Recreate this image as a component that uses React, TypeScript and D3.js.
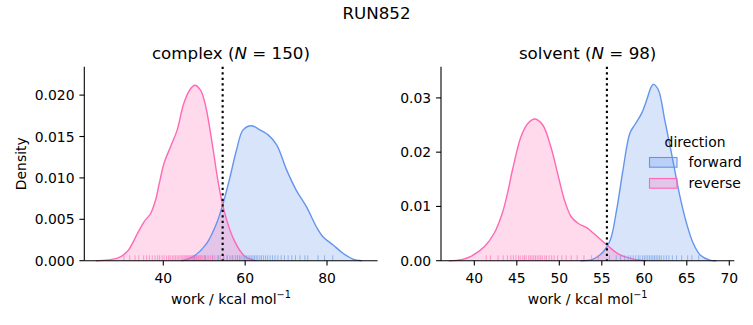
import React from 'react';
import * as d3 from 'd3';

// ---- Data ----
const directions = ['forward', 'reverse'];
const dirColors = ['#6495ED', '#FF69B4'];

// complex panel KDE curves
const complexForwardX = [44.5, 47.3, 50.6, 53.0, 54.6, 56.3, 57.9, 59.5, 61.6, 63.6, 65.6, 67.7, 70.1, 72.5, 75.0, 77.4, 79.0, 81.5, 83.9, 86.3, 88.5];
const complexForwardY = [0, 0.0005, 0.0021, 0.0045, 0.0069, 0.0101, 0.0134, 0.0158, 0.0163, 0.0158, 0.0152, 0.0140, 0.0110, 0.0085, 0.0065, 0.0041, 0.0029, 0.0019, 0.0009, 0.0002, 0];
const complexReverseX = [23.5, 26.5, 28.8, 31.2, 33.7, 35.3, 36.9, 38.1, 39.0, 40.2, 41.8, 43.4, 45.0, 46.7, 47.7, 49.1, 50.3, 52.0, 53.3, 54.3, 55.5, 57.1, 59.2, 60.3, 62.5];
const complexReverseY = [0, 0.0001, 0.0003, 0.0011, 0.0033, 0.0047, 0.0057, 0.0073, 0.0093, 0.0118, 0.0138, 0.0158, 0.0190, 0.0208, 0.0212, 0.0206, 0.0188, 0.0140, 0.0098, 0.0072, 0.0049, 0.0027, 0.0009, 0.0004, 0];

// solvent panel KDE curves
const solventForwardX = [52.5, 54.0, 55.2, 56.0, 56.75, 57.5, 58.3, 58.9, 59.7, 60.3, 60.75, 61.06, 61.65, 62.4, 63.2, 64.2, 64.97, 65.76, 66.55, 67.7, 68.5];
const solventForwardY = [0, 0.0003, 0.0017, 0.0038, 0.0094, 0.0168, 0.0235, 0.0251, 0.0272, 0.0297, 0.0318, 0.0325, 0.0315, 0.0260, 0.0198, 0.0118, 0.0069, 0.0032, 0.0011, 0.0001, 0];
const solventReverseX = [37.0, 38.5, 39.6, 41.2, 42.35, 43.3, 43.9, 44.5, 45.5, 46.3, 47.14, 48.05, 49.0, 49.8, 50.6, 51.4, 52.2, 53.3, 54.0, 55.6, 57.1, 58.7, 60.2];
const solventReverseY = [0, 0.0002, 0.0008, 0.0026, 0.0051, 0.0088, 0.0124, 0.0168, 0.0229, 0.0253, 0.0261, 0.0250, 0.0210, 0.0161, 0.0112, 0.0081, 0.0069, 0.0060, 0.0051, 0.0029, 0.0011, 0.0003, 0];

// rug samples
const complexForwardRug = [47.6, 50.2, 52.1, 53.5, 54.8, 55.6, 56.3, 57.0, 57.6, 58.1, 58.6, 59.0, 59.5, 59.9, 60.3, 60.7, 61.1, 61.5, 61.9, 62.3, 62.7, 63.1, 63.6, 64.0, 64.5, 65.0, 65.5, 66.1, 66.7, 67.3, 68.0, 68.8, 69.6, 70.5, 71.4, 72.3, 73.4, 74.6, 75.3, 77.8, 79.4, 81.4];
const complexReverseRug = [30.4, 31.8, 33.1, 34.0, 35.2, 35.9, 36.6, 37.3, 38.0, 38.6, 39.1, 39.7, 40.2, 40.8, 41.3, 41.7, 42.2, 42.6, 43.0, 43.4, 43.8, 44.1, 44.5, 44.8, 45.1, 45.4, 45.7, 46.0, 46.2, 46.5, 46.7, 47.0, 47.2, 47.4, 47.6, 47.9, 48.1, 48.3, 48.6, 48.8, 49.1, 49.4, 49.7, 50.0, 50.3, 50.7, 51.1, 51.5, 52.0, 52.6, 53.2, 53.9, 54.7, 55.6, 56.8, 58.1];
const solventForwardRug = [55.9, 56.7, 57.2, 57.7, 58.1, 58.4, 58.7, 59.0, 59.3, 59.5, 59.8, 60.0, 60.2, 60.4, 60.6, 60.8, 61.0, 61.2, 61.4, 61.6, 61.8, 62.0, 62.3, 62.6, 62.9, 63.3, 63.8, 64.4, 65.1, 65.6, 66.4];
const solventReverseRug = [41.4, 41.9, 42.8, 43.4, 43.9, 44.3, 44.6, 44.9, 45.2, 45.4, 45.7, 45.9, 46.1, 46.4, 46.6, 46.8, 47.0, 47.2, 47.4, 47.6, 47.8, 48.0, 48.3, 48.5, 48.8, 49.1, 49.4, 49.8, 50.3, 50.8, 51.4, 52.1, 52.9, 53.8, 54.6];

// reference lines (dotted)
const complexVLine = 54.5;
const solventVLine = 55.6;

// axes
const complexXDomain = [20.7, 92.36];
const complexYDomain = [0, 0.02342];
const solventXDomain = [36.08, 70.59];
const solventYDomain = [0, 0.03573];
const complexXTicks = [40, 60, 80];
const complexYTicks = [0, 0.005, 0.01, 0.015, 0.02];
const complexYTickLabels = ['0.000', '0.005', '0.010', '0.015', '0.020'];
const solventXTicks = [40, 45, 50, 55, 60, 65, 70];
const solventYTicks = [0, 0.01, 0.02, 0.03];
const solventYTickLabels = ['0.00', '0.01', '0.02', '0.03'];

const suptitle = 'RUN852';
const FONT = '"DejaVu Sans", sans-serif';
const TICK_FS = 13.9;
const TITLE_FS = 16.7;

type PanelProps = {
  left: number; top: number; width: number; height: number;
  xDomain: number[]; yDomain: number[];
  xTicks: number[]; yTicks: number[]; yTickLabels: string[];
  curves: { x: number[]; y: number[] }[];
  rugs: number[][];
  vline: number;
  titleName: string; titleN: string;
  showYLabel: boolean;
  legend?: boolean;
};

function Panel(p: PanelProps) {
  const x = d3.scaleLinear().domain(p.xDomain).range([p.left, p.left + p.width]);
  const y = d3.scaleLinear().domain(p.yDomain).range([p.top + p.height, p.top]);
  const bottom = p.top + p.height;
  const area = d3.area<[number, number]>()
    .x(d => x(d[0])).y0(bottom).y1(d => y(d[1]))
    .curve(d3.curveCatmullRom.alpha(0.5));
  const line = d3.line<[number, number]>()
    .x(d => x(d[0])).y(d => y(d[1]))
    .curve(d3.curveCatmullRom.alpha(0.5));
  const rugH = p.height * 0.028;
  const cx = p.left + p.width / 2;
  return (
    <g>
      {p.curves.map((c, i) => {
        const pts = c.x.map((v, k) => [v, c.y[k]] as [number, number]);
        return <path key={'f' + i} d={area(pts) || ''} fill={dirColors[i]} fillOpacity={0.25} stroke="none" />;
      })}
      {p.curves.map((c, i) => {
        const pts = c.x.map((v, k) => [v, c.y[k]] as [number, number]);
        return <path key={'l' + i} d={line(pts) || ''} fill="none" stroke={dirColors[i]} strokeWidth={1.4} />;
      })}
      {p.rugs.map((r, i) => (
        <g key={'r' + i}>
          {r.map((v, k) => (
            <line key={k} x1={x(v)} x2={x(v)} y1={bottom} y2={bottom - rugH} stroke={dirColors[i]} strokeOpacity={0.6} strokeWidth={1} />
          ))}
        </g>
      ))}
      <line x1={x(p.vline)} x2={x(p.vline)} y1={p.top} y2={bottom} stroke="#000" strokeWidth={2.1} strokeDasharray="2.1,3.4" />
      {/* spines */}
      <line x1={p.left} x2={p.left} y1={p.top} y2={bottom} stroke="#000" strokeWidth={1.1} />
      <line x1={p.left} x2={p.left + p.width} y1={bottom} y2={bottom} stroke="#000" strokeWidth={1.1} />
      {p.xTicks.map(t => (
        <g key={'xt' + t}>
          <line x1={x(t)} x2={x(t)} y1={bottom} y2={bottom + 4.9} stroke="#000" strokeWidth={1.1} />
          <text x={x(t)} y={bottom + 22.5} fontSize={TICK_FS} textAnchor="middle" fontFamily={FONT} fill="#000">{t}</text>
        </g>
      ))}
      {p.yTicks.map((t, i) => (
        <g key={'yt' + t}>
          <line x1={p.left} x2={p.left - 4.9} y1={y(t)} y2={y(t)} stroke="#000" strokeWidth={1.1} />
          <text x={p.left - 9.8} y={y(t) + 5} fontSize={TICK_FS} textAnchor="end" fontFamily={FONT} fill="#000">{p.yTickLabels[i]}</text>
        </g>
      ))}
      <text x={cx} y={bottom + 43} fontSize={TICK_FS} textAnchor="middle" fontFamily={FONT} fill="#000">
        work / kcal mol<tspan fontSize={9.7} dy={-5.5}>−1</tspan>
      </text>
      {p.showYLabel && (
        <text transform={`translate(26,${p.top + p.height / 2}) rotate(-90)`} fontSize={TICK_FS} textAnchor="middle" fontFamily={FONT} fill="#000">Density</text>
      )}
      <text x={cx} y={p.top - 8.3} fontSize={TITLE_FS} textAnchor="middle" fontFamily={FONT} fill="#000">
        {p.titleName} (<tspan fontStyle="italic">N</tspan> = {p.titleN})
      </text>
      {p.legend && (
        <g fontFamily={FONT} fontSize={TICK_FS}>
          <text x={695} y={146.5} textAnchor="middle" fill="#000">direction</text>
          {directions.map((d, i) => (
            <g key={d}>
              <rect x={649.5} y={157.5 + i * 21} width={27.5} height={9.7} fill={dirColors[i]} fillOpacity={0.25} stroke={dirColors[i]} strokeWidth={1.1} />
              <text x={688.5} y={166.5 + i * 21} fill="#000">{d}</text>
            </g>
          ))}
        </g>
      )}
    </g>
  );
}

export default function App() {
  return (
    <div style={{ position: 'absolute', left: 0, top: 0 }}>
      <svg width={753} height={325} style={{ display: 'block', background: '#fff' }}>
        <rect width={753} height={325} fill="#fff" />
        <text x={376.5} y={19} fontSize={TITLE_FS} textAnchor="middle" fontFamily={FONT} fill="#000">{suptitle}</text>
        <Panel left={84.3} top={66.8} width={293.3} height={193.9}
          xDomain={complexXDomain} yDomain={complexYDomain}
          xTicks={complexXTicks} yTicks={complexYTicks} yTickLabels={complexYTickLabels}
          curves={[{ x: complexForwardX, y: complexForwardY }, { x: complexReverseX, y: complexReverseY }]}
          rugs={[complexForwardRug, complexReverseRug]}
          vline={complexVLine} titleName="complex" titleN="150" showYLabel={true} />
        <Panel left={441} top={66.8} width={293.3} height={193.9}
          xDomain={solventXDomain} yDomain={solventYDomain}
          xTicks={solventXTicks} yTicks={solventYTicks} yTickLabels={solventYTickLabels}
          curves={[{ x: solventForwardX, y: solventForwardY }, { x: solventReverseX, y: solventReverseY }]}
          rugs={[solventForwardRug, solventReverseRug]}
          vline={solventVLine} titleName="solvent" titleN="98" showYLabel={false} legend={true} />
      </svg>
    </div>
  );
}
